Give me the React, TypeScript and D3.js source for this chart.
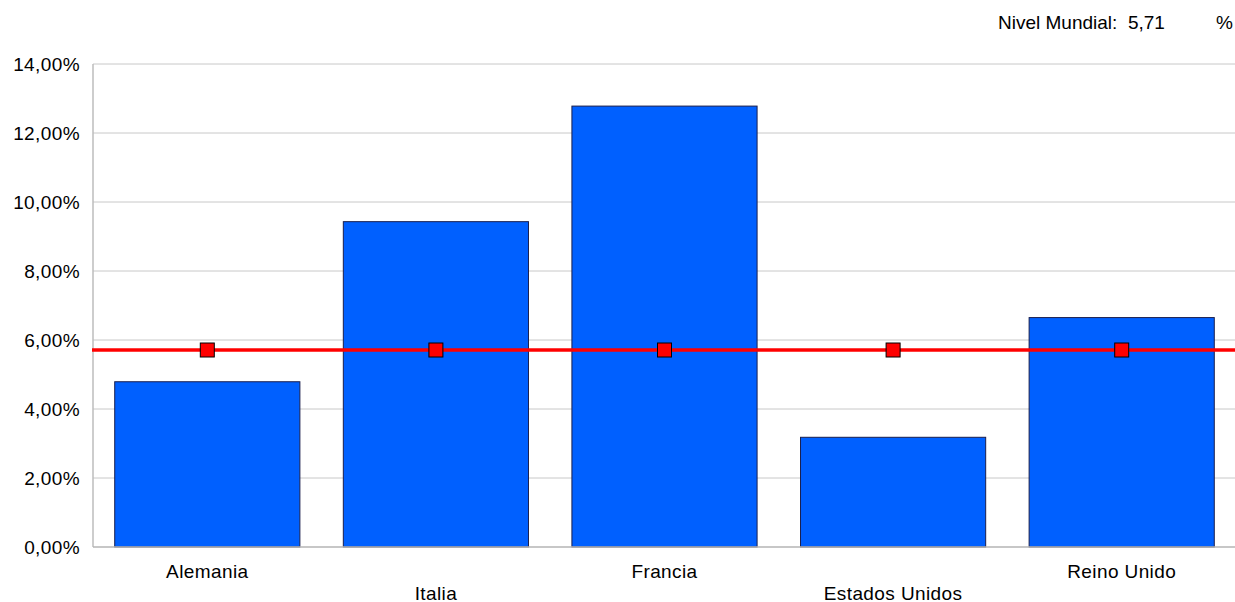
import React from "react";
import * as d3 from "d3";

const categories = ["Alemania", "Italia", "Francia", "Estados Unidos", "Reino Unido"];
const values = [4.79, 9.43, 12.78, 3.18, 6.65];
const worldLevel = 5.71;
const yTicks = [0, 2, 4, 6, 8, 10, 12, 14];

const W = 1235, H = 602;
const M = { left: 93, right: 1236, top: 64, bottom: 547 };

export default function App() {
  const x = d3.scaleBand<string>().domain(categories).range([M.left, M.right]).paddingInner(0.19).paddingOuter(0.095);
  const y = d3.scaleLinear().domain([0, 14]).range([M.bottom, M.top]);
  const fmt = (v: number) => v.toFixed(2).replace(".", ",") + "%";
  const font = "'Liberation Sans', Arial, sans-serif";
  const yl = y(worldLevel);
  const fs = 19;
  const ls = 0.4;
  return (
    <svg width={W} height={H} style={{ position: "absolute", left: 0, top: 0, background: "#fff" }} fontFamily={font}>
      <text x={998} y={29} fontSize={fs} textAnchor="start" fill="#000" style={{ whiteSpace: "pre" }}>Nivel Mundial:  5,71</text>
      <text x={1233} y={29} fontSize={fs} textAnchor="end" fill="#000">%</text>
      {yTicks.map((t) => (
        <g key={t}>
          {t > 0 && <line x1={M.left} x2={1235} y1={y(t)} y2={y(t)} stroke="#c8c8c8" strokeWidth={1} />}
          <text x={80} y={y(t) + 7} fontSize={fs} letterSpacing={ls} textAnchor="end" fill="#000">{fmt(t)}</text>
        </g>
      ))}
      <line x1={M.left} x2={M.left} y1={M.top} y2={M.bottom} stroke="#bdbdbd" strokeWidth={1.5} />
      {categories.map((c, i) => (
        <rect key={c} x={x(c)} y={y(values[i])} width={x.bandwidth()} height={M.bottom - y(values[i])}
          fill="#0060ff" stroke="#1a1f4d" strokeWidth={1} />
      ))}
      <line x1={M.left} x2={1235} y1={M.bottom} y2={M.bottom} stroke="#b4b4b4" strokeWidth={1.5} />
      {categories.map((c, i) => (
        <text key={c} x={(x(c) as number) + x.bandwidth() / 2} y={i % 2 === 0 ? 578 : 600} fontSize={fs} letterSpacing={ls} textAnchor="middle" fill="#000">{c}</text>
      ))}
      <line x1={M.left - 1} x2={1235} y1={yl} y2={yl} stroke="#ff0000" strokeWidth={3.5} />
      {categories.map((c) => (
        <rect key={c} x={(x(c) as number) + x.bandwidth() / 2 - 7} y={yl - 7} width={14} height={14} fill="#ff0000" stroke="#000" strokeWidth={1} />
      ))}
    </svg>
  );
}
